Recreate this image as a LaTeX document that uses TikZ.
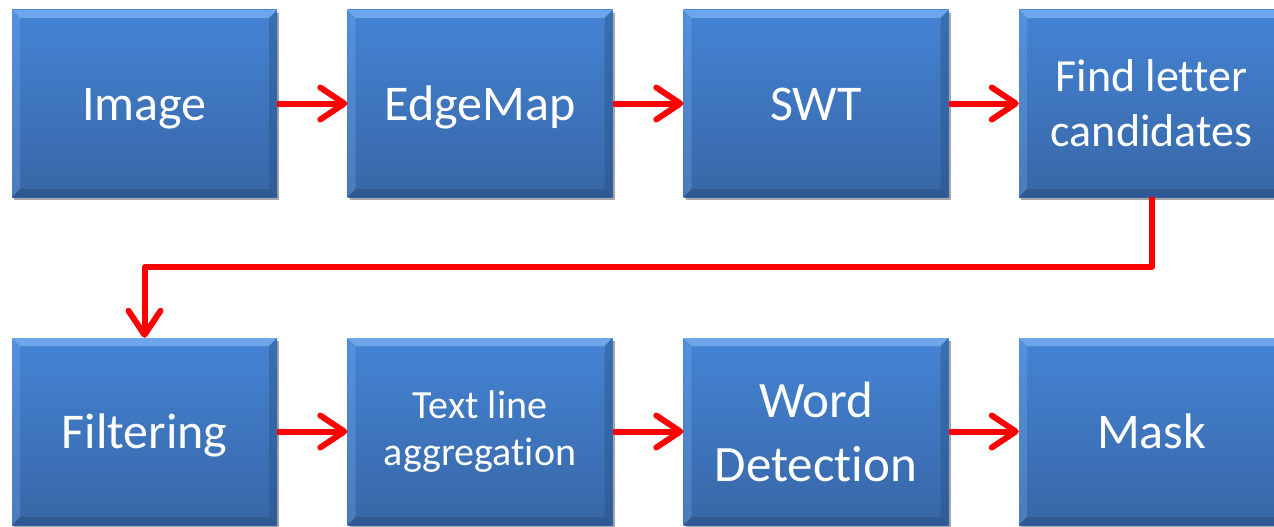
\documentclass[tikz,border=0pt]{standalone}
\usepackage{fontspec}
\setmainfont{Carlito}[Ligatures=NoCommon]
\usetikzlibrary{arrows.meta,shadows,calc}
\definecolor{boxtop}{RGB}{68,132,212}
\definecolor{boxbot}{RGB}{56,102,166}
\definecolor{bevlight}{RGB}{120,175,240}
\definecolor{bevdark}{RGB}{40,78,130}
\definecolor{arrowred}{RGB}{255,0,0}
\tikzset{
  stepbox/.style={
    rectangle, minimum width=265pt, minimum height=187pt, inner sep=0pt,
    top color=boxtop, bottom color=boxbot, text=white, align=center,
    drop shadow={shadow xshift=2pt, shadow yshift=-3pt, opacity=0.35, fill=black},
    path picture={
      \coordinate (nw) at (path picture bounding box.north west);
      \coordinate (ne) at (path picture bounding box.north east);
      \coordinate (sw) at (path picture bounding box.south west);
      \coordinate (se) at (path picture bounding box.south east);
      \fill[bevlight,opacity=0.8] (nw) -- (ne) -- ([xshift=-8pt,yshift=-8pt]ne) -- ([xshift=8pt,yshift=-8pt]nw) -- cycle;
      \fill[bevlight,opacity=0.3] (nw) -- ([xshift=8pt,yshift=-8pt]nw) -- ([xshift=8pt,yshift=8pt]sw) -- (sw) -- cycle;
      \fill[bevdark,opacity=0.55] (sw) -- (se) -- ([xshift=-8pt,yshift=8pt]se) -- ([xshift=8pt,yshift=8pt]sw) -- cycle;
      \fill[bevdark,opacity=0.4] (ne) -- (se) -- ([xshift=-8pt,yshift=8pt]se) -- ([xshift=-8pt,yshift=-8pt]ne) -- cycle;
    }
  },
  bigtext/.style={font=\fontsize{50}{60}\selectfont, text height=33pt, text depth=0pt},
  flow/.style={draw=arrowred, line width=6pt, line join=round,
    -{Straight Barb[length=24pt,width=32pt,round]}}
}
\begin{document}
\begin{tikzpicture}[x=1pt,y=-1pt]
\useasboundingbox (0,0) rectangle (1274,527);
\fill[white] (0,0) rectangle (1274,527);
\node[stepbox,bigtext] (img) at (144.5,103.5) {Image};
\node[stepbox,bigtext] (edge) at (480,103.5) {EdgeMap};
\node[stepbox,bigtext] (swt) at (816,103.5) {SWT};
\node[stepbox,font=\fontsize{46}{55}\selectfont] (find) at (1151.5,103.5) {Find letter\\candidates};
\node[stepbox,bigtext] (filt) at (144.5,431.5) {Filtering};
\node[stepbox,font=\fontsize{40}{47}\selectfont] (agg) at (480,431.5) {Text line\\aggregation};
\node[stepbox,font=\fontsize{51}{64}\selectfont] (word) at (816,431.5) {Word\\Detection};
\node[stepbox,bigtext] (mask) at (1151.5,431.5) {Mask};
\coordinate (bend) at (0,267);
\draw[flow] (img) -- (edge);
\draw[flow] (edge) -- (swt);
\draw[flow] (swt) -- (find);
\draw[flow] (find.south) -- (find.south |- bend) -- (filt.north |- bend) -- (filt.north);
\draw[flow] (filt) -- (agg);
\draw[flow] (agg) -- (word);
\draw[flow] (word) -- (mask);
\end{tikzpicture}
\end{document}
